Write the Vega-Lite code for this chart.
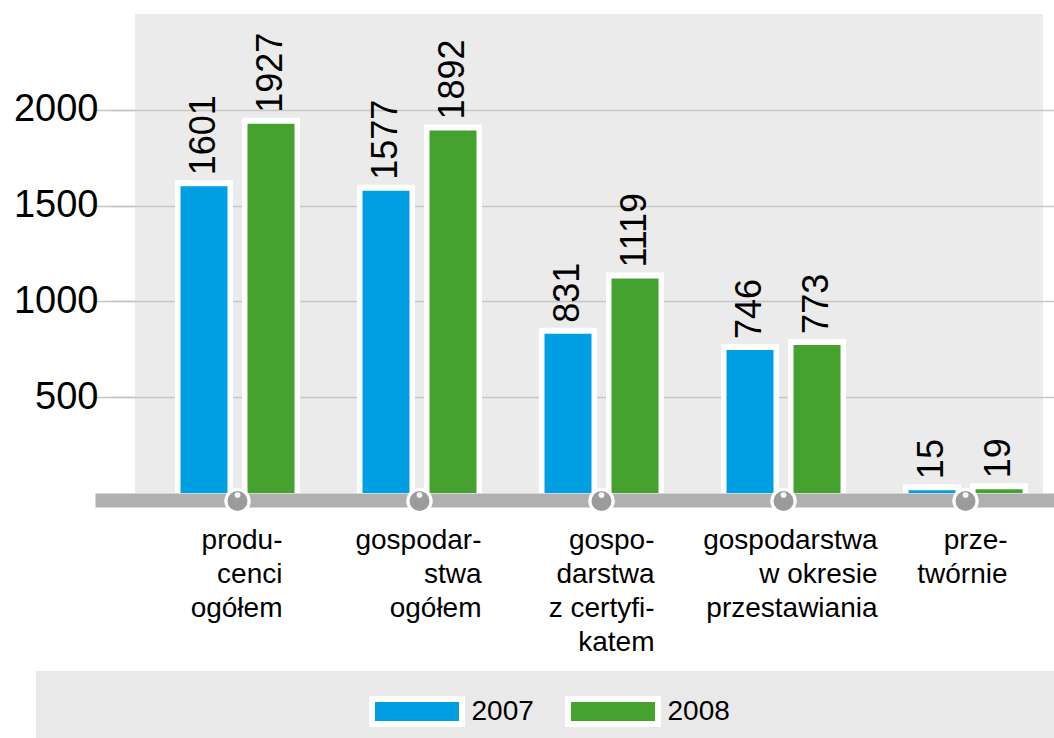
{
  "$schema": "https://vega.github.io/schema/vega-lite/v6.json",
  "autosize": {"type": "none"},
  "padding": {"left": 135, "top": 14, "right": 11, "bottom": 245},
  "width": 908,
  "height": 479,
  "background": "white",
  "config": {
    "view": {"fill": "#ebebeb", "stroke": null},
    "font": "Liberation Sans"
  },
  "data": {
    "values": [
      {"kategoria": "produ-|cenci|ogółem", "rok": "2007", "wartosc": 1601},
      {"kategoria": "produ-|cenci|ogółem", "rok": "2008", "wartosc": 1927},
      {"kategoria": "gospodar-|stwa|ogółem", "rok": "2007", "wartosc": 1577},
      {"kategoria": "gospodar-|stwa|ogółem", "rok": "2008", "wartosc": 1892},
      {"kategoria": "gospo-|darstwa|z certyfi-|katem", "rok": "2007", "wartosc": 831},
      {"kategoria": "gospo-|darstwa|z certyfi-|katem", "rok": "2008", "wartosc": 1119},
      {"kategoria": "gospodarstwa|w okresie|przestawiania", "rok": "2007", "wartosc": 746},
      {"kategoria": "gospodarstwa|w okresie|przestawiania", "rok": "2008", "wartosc": 773},
      {"kategoria": "prze-|twórnie", "rok": "2007", "wartosc": 15},
      {"kategoria": "prze-|twórnie", "rok": "2008", "wartosc": 19}
    ]
  },
  "encoding": {
    "x": {
      "field": "kategoria",
      "type": "nominal",
      "sort": null,
      "scale": {"range": [-40, 919], "paddingInner": 0.313, "paddingOuter": 0.291, "align": 0.755},
      "axis": {
        "title": null,
        "domainColor": "#b0b0b0",
        "domainWidth": 14,
        "domainCap": "butt",
        "offset": 7,
        "ticks": false,
        "labelAngle": 0,
        "labelFontSize": 28,
        "labelColor": "black",
        "labelLineHeight": 34,
        "labelPadding": 26,
        "labelAlign": "right",
        "labelBaseline": "top",
        "labelLimit": 0,
        "labelExpr": "split(datum.label, '|')",
        "labelOffset": {
          "condition": [
            {"test": "datum.value == 'produ-|cenci|ogółem'", "value": 45},
            {"test": "datum.value == 'gospodar-|stwa|ogółem'", "value": 62},
            {"test": "datum.value == 'gospo-|darstwa|z certyfi-|katem'", "value": 53},
            {"test": "datum.value == 'gospodarstwa|w okresie|przestawiania'", "value": 94}
          ],
          "value": 42
        }
      }
    }
  },
  "layer": [
    {
      "mark": {"type": "bar", "color": "white", "yOffset": -6},
      "encoding": {
        "xOffset": {"field": "rok", "type": "nominal", "scale": {"paddingInner": 0.134, "paddingOuter": 0}},
        "y": {
          "field": "wartosc",
          "type": "quantitative",
          "stack": null,
          "scale": {"domain": [0, 2500], "nice": false},
          "axis": {
            "title": null,
            "values": [500, 1000, 1500, 2000],
            "format": "d",
            "domain": false,
            "tickSize": 24,
            "tickColor": "#c6c6c6",
            "tickWidth": 1.5,
            "grid": true,
            "gridColor": "#c6c6c6",
            "gridWidth": 1.5,
            "labelFontSize": 38,
            "labelColor": "black",
            "labelPadding": 13
          }
        }
      }
    },
    {
      "mark": {"type": "bar", "width": 47},
      "encoding": {
        "xOffset": {"field": "rok", "type": "nominal", "scale": {"paddingInner": 0.134, "paddingOuter": 0}},
        "y": {"field": "wartosc", "type": "quantitative", "stack": null},
        "color": {
          "field": "rok",
          "type": "nominal",
          "scale": {"domain": ["2007", "2008"], "range": ["#009fe3", "#46a22f"]},
          "legend": {
            "title": "\u00a0",
            "titleOrient": "left",
            "titleFontSize": 1,
            "titlePadding": 308,
            "orient": "none",
            "legendX": -99,
            "legendY": 657,
            "direction": "horizontal",
            "fillColor": "#e9e9e9",
            "padding": 25,
            "symbolType": "M-3.6,-1H3.6V1H-3.6Z",
            "symbolSize": 625,
            "symbolOffset": 32.5,
            "symbolStrokeColor": "white",
            "symbolStrokeWidth": 6,
            "symbolOpacity": 1,
            "labelFontSize": 28,
            "labelColor": "black",
            "labelOffset": 39,
            "columnPadding": 22,
            "labelLimit": 2000,
            "labelExpr": "datum.value == '2008' ? '2008\u00a0\u00a0\u00a0\u00a0\u00a0\u00a0\u00a0\u00a0\u00a0\u00a0\u00a0\u00a0\u00a0\u00a0\u00a0\u00a0\u00a0\u00a0\u00a0\u00a0\u00a0\u00a0\u00a0\u00a0\u00a0\u00a0\u00a0\u00a0\u00a0\u00a0\u00a0\u00a0\u00a0\u00a0\u00a0\u00a0\u00a0\u00a0\u00a0\u00a0\u200b' : datum.label",
            "encode": {"symbols": {"update": {"stroke": {"value": "white"}, "strokeWidth": {"value": 6}}}}
          }
        }
      }
    },
    {
      "mark": {"type": "text", "angle": 270, "align": "left", "baseline": "middle", "dx": 11, "fontSize": 36, "color": "black"},
      "encoding": {
        "xOffset": {"field": "rok", "type": "nominal", "scale": {"paddingInner": 0.134, "paddingOuter": 0}},
        "y": {"field": "wartosc", "type": "quantitative", "stack": null},
        "text": {"field": "wartosc", "type": "quantitative", "format": "d"}
      }
    },
    {
      "mark": {"type": "point", "shape": "circle", "filled": true, "size": 530, "color": "#9b9b9b", "stroke": "white", "strokeWidth": 3, "opacity": 1, "yOffset": 8},
      "encoding": {"y": {"datum": 0}}
    },
    {
      "mark": {"type": "point", "shape": "circle", "filled": true, "size": 32, "color": "white", "opacity": 0.7, "yOffset": 2},
      "encoding": {"y": {"datum": 0}}
    }
  ]
}
